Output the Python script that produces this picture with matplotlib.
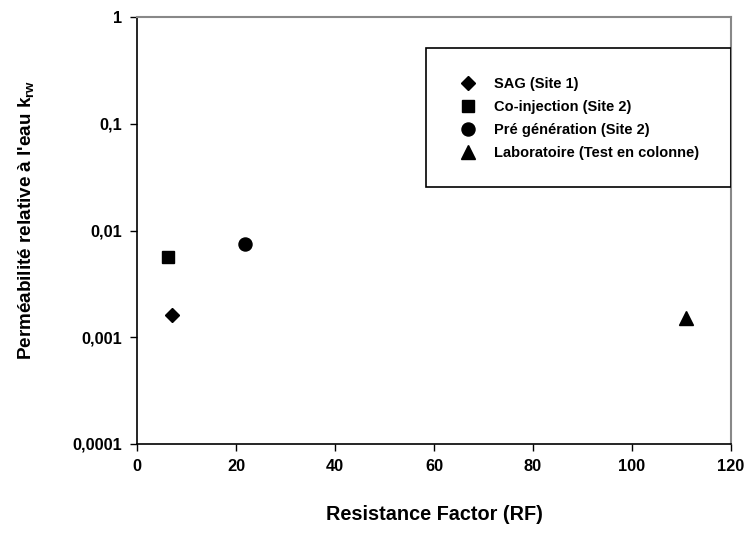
import matplotlib
matplotlib.use("Agg")
import matplotlib.pyplot as plt
from matplotlib.patches import Rectangle
from matplotlib.ticker import FixedLocator, FixedFormatter, NullLocator

plt.rcParams['font.family'] = ['Liberation Sans', 'DejaVu Sans']
plt.rcParams['font.weight'] = 'bold'

# data
labels = ["SAG (Site 1)", "Co-injection (Site 2)", "Pré génération (Site 2)",
          "Laboratoire (Test en colonne)"]
rf = [7.1, 6.3, 21.9, 110.9]
krw = [0.0016, 0.0056, 0.0074, 0.00153]
markers = ["D", "s", "o", "^"]
sizes = [7.3, 8.1, 9.4, 10]

yticks = [0.0001, 0.001, 0.01, 0.1, 1]
yticklabels = ["0,0001", "0,001", "0,01", "0,1", "1"]
xticks = [0, 20, 40, 60, 80, 100, 120]

fig = plt.figure(figsize=(7.46, 5.37), dpi=100)
ax = fig.add_axes([0.1836, 0.1732, 0.7964, 0.7951])

for x, y, m, s, lab in zip(rf, krw, markers, sizes, labels):
    ax.plot([x], [y], linestyle="none", marker=m, markersize=s,
            color="black", label=lab)

ax.set_yscale("log")
ax.set_xlim(0, 120)
ax.set_ylim(0.0001, 1)
ax.yaxis.set_major_locator(FixedLocator(yticks))
ax.yaxis.set_major_formatter(FixedFormatter(yticklabels))
ax.yaxis.set_minor_locator(NullLocator())
ax.set_xticks(xticks)
ax.tick_params(direction="out", length=5, width=1, labelsize=11.8, pad=6)

for side in ["top", "right"]:
    ax.spines[side].set_color("#888888")
    ax.spines[side].set_linewidth(1.5)
for side in ["left", "bottom"]:
    ax.spines[side].set_linewidth(1.2)

ax.set_xlabel("Resistance Factor (RF)", fontsize=14.3, fontweight="bold", labelpad=22)
ax.set_ylabel(r"Perméabilité relative à l'eau k$_{\mathregular{rw}}$",
              fontsize=13.6, fontweight="bold")
ax.yaxis.set_label_coords(-0.168, 0.525)

# legend frame
ax.add_patch(Rectangle((0.4865, 0.602), 0.5135, 0.325, transform=ax.transAxes,
                       fill=False, edgecolor="black", linewidth=1.2, zorder=3))
ax.legend(loc="center left", bbox_to_anchor=(0.532, 0.762), frameon=False,
          prop={"size": 10.5, "weight": "bold"}, handlelength=1.2,
          handletextpad=1.2, labelspacing=0.62, borderaxespad=0)

fig.savefig("out.png", dpi=100)
